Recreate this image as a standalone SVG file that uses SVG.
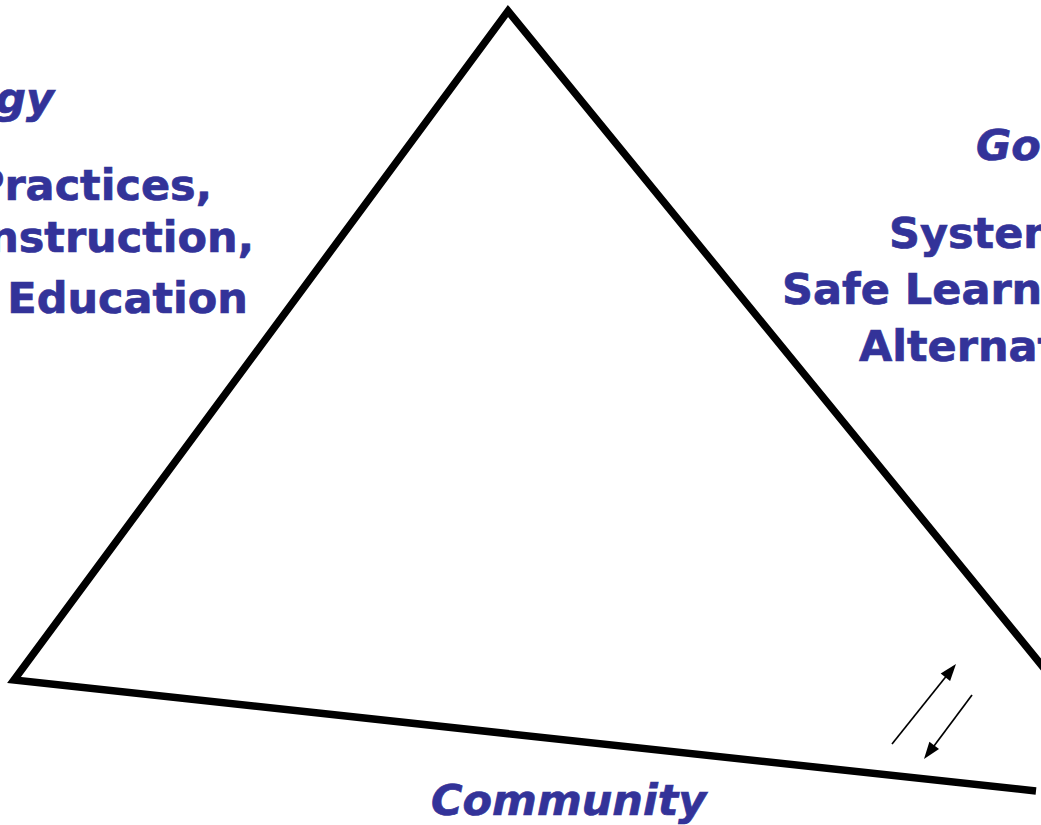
<svg xmlns="http://www.w3.org/2000/svg" width="1041" height="825" viewBox="0 0 1041 825">
  <defs>
    <style>
      .lbl { font-family: "DejaVu Sans", Verdana, sans-serif; font-weight: bold; font-size: 43px; fill: #333399; stroke: #333399; stroke-width: 0.7; }
      .it { font-style: oblique; }
      .edge { fill: none; stroke: #000; stroke-width: 7.5; stroke-linejoin: miter; }
      .arr { fill: none; stroke: #000; stroke-width: 1.7; }
      .head { fill: #000; }
    </style>
  </defs>
  <rect width="1041" height="825" fill="#fff"/>
  <g id="triangle">
    <polyline class="edge" points="1070,700 508,11 14,680 1036,791"/>
  </g>
  <g id="connectors">
    <line class="arr" x1="892" y1="744" x2="948" y2="674"/>
    <path class="head" d="M956,664 L950.1,681.1 L940.7,673.6 z"/>
    <line class="arr" x1="972" y1="695" x2="931" y2="750"/>
    <path class="head" d="M924,759 L939,749 L929.4,741.8 z"/>
  </g>
  <g id="pedagogy">
    <text class="lbl it" x="54" y="113" text-anchor="end">gy</text>
    <text class="lbl" x="212" y="200" text-anchor="end">Practices,</text>
    <text class="lbl" x="254" y="252" text-anchor="end">nstruction,</text>
    <text class="lbl" x="248" y="313" text-anchor="end">Education</text>
  </g>
  <g id="governance">
    <text class="lbl it" x="976" y="160">Go</text>
    <text class="lbl" x="889" y="248">System</text>
    <text class="lbl" x="782" y="304">Safe Learn</text>
    <text class="lbl" x="859" y="361">Alternat</text>
  </g>
  <g id="community">
    <text class="lbl it" x="431" y="815">Community</text>
  </g>
</svg>
